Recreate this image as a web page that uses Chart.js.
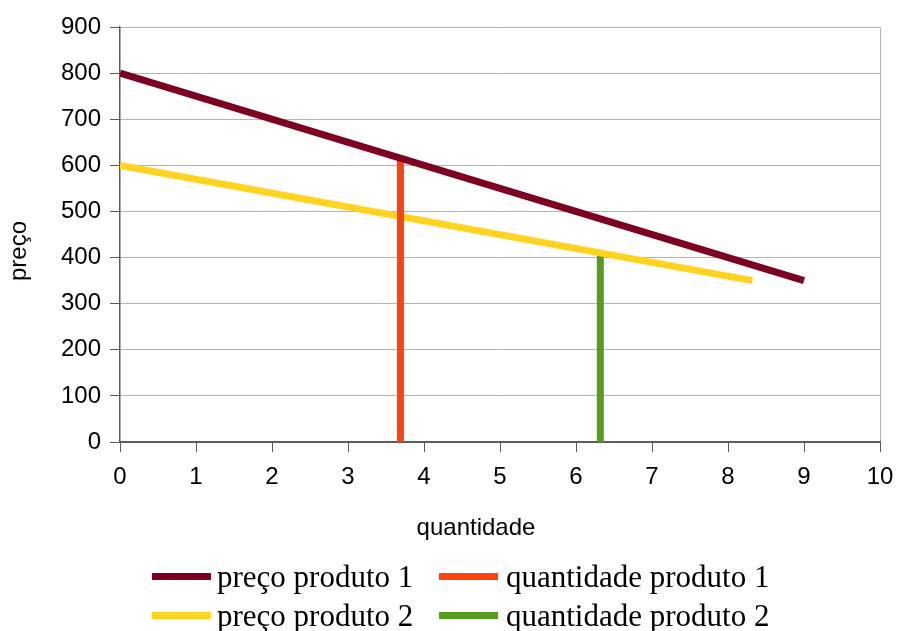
<!DOCTYPE html>
<html>
<head>
<meta charset="utf-8">
<script src="https://cdn.jsdelivr.net/npm/chart.js@4.4.1/dist/chart.umd.min.js"></script>
<style>
  html,body{margin:0;padding:0;background:#fff;}
  #wrap{position:relative;width:897px;height:631px;overflow:hidden;}
  #chart{position:absolute;left:0;top:0;}
  .ttl{position:absolute;font-family:"Liberation Sans",Arial,sans-serif;font-size:24px;line-height:24px;color:#000;white-space:nowrap;}
  #ytitle{left:18px;top:251px;transform:translate(-50%,-50%) rotate(-90deg);}
  #xtitle{left:476px;top:527px;transform:translate(-50%,-50%);}
  .leg{position:absolute;font-family:"Liberation Serif","Times New Roman",serif;font-size:31px;line-height:31px;color:#000;white-space:nowrap;}
  .sw{position:absolute;width:59px;height:7px;}
</style>
</head>
<body>
<div id="wrap">
  <canvas id="chart" width="897" height="631"></canvas>
  <div class="ttl" id="ytitle">preço</div>
  <div class="ttl" id="xtitle">quantidade</div>
  <div id="legend"></div>
</div>
<script>
// dados
const xTicks = [0,1,2,3,4,5,6,7,8,9,10];
const yTicks = [0,100,200,300,400,500,600,700,800,900];

const preco1X = [0, 9];
const preco1Y = [800, 350];
const quant1X = [3.69, 3.69];
const quant1Y = [0, 615];
const preco2X = [0, 8.32];
const preco2Y = [600, 350];
const quant2X = [6.32, 6.32];
const quant2Y = [0, 410];

const pts = (xs, ys) => xs.map((x,i)=>({x, y: ys[i]}));

const tickFont = {family:'"Liberation Sans", Arial, sans-serif', size:24};
const axisGrey = '#5b5b5b';
const gridGrey = '#b3b3b3';

// a ordem dos datasets define a sobreposição (o primeiro fica por cima)
const datasets = [
  {label:'preço produto 1', data:pts(preco1X,preco1Y), borderColor:'#7e0021', backgroundColor:'#7e0021'},
  {label:'quantidade produto 1', data:pts(quant1X,quant1Y), borderColor:'#ff420e', backgroundColor:'#ff420e'},
  {label:'preço produto 2', data:pts(preco2X,preco2Y), borderColor:'#ffd320', backgroundColor:'#ffd320'},
  {label:'quantidade produto 2', data:pts(quant2X,quant2Y), borderColor:'#579d1c', backgroundColor:'#579d1c'}
].map(d=>Object.assign(d,{showLine:true, borderWidth:7, pointRadius:0, tension:0, fill:false}));

new Chart(document.getElementById('chart'), {
  type:'scatter',
  data:{datasets},
  options:{
    responsive:false,
    animation:false,
    layout:{padding:{left:0,right:17,top:27,bottom:86}},
    plugins:{legend:{display:false}, tooltip:{enabled:false}},
    scales:{
      x:{
        type:'linear', min:0, max:10,
        afterBuildTicks:a=>{ a.ticks = xTicks.map(v=>({value:v})); },
        afterFit:a=>{ a.height = 103; a.paddingLeft = 0; a.paddingRight = 0; },
        border:{color:axisGrey, width:2},
        grid:{
          color:c=> (c.tick && c.tick.value===10) ? gridGrey : 'rgba(0,0,0,0)',
          tickColor:axisGrey, tickLength:10, lineWidth:1
        },
        ticks:{color:'#000', font:tickFont, padding:11, maxRotation:0, autoSkip:false}
      },
      y:{
        type:'linear', min:0, max:900,
        afterBuildTicks:a=>{ a.ticks = yTicks.map(v=>({value:v})); },
        afterFit:a=>{ a.width = 120; a.paddingTop = 0; a.paddingBottom = 0; },
        border:{color:axisGrey, width:1.5},
        grid:{color:gridGrey, tickColor:axisGrey, tickLength:10, lineWidth:1},
        ticks:{color:'#000', font:tickFont, padding:9, autoSkip:false}
      }
    }
  }
});

// legenda em duas linhas, como no original
const legendPos = [
  {sx:152, tx:217, row:0}, {sx:439, tx:506, row:0},
  {sx:152, tx:217, row:1}, {sx:439, tx:506, row:1}
];
const rowSwatchTop = [572.5, 611.5];
const rowTextTop = [561, 600];
const leg = document.getElementById('legend');
datasets.forEach((d,i)=>{
  const p = legendPos[i];
  const sw = document.createElement('div');
  sw.className='sw'; sw.style.left=p.sx+'px'; sw.style.top=rowSwatchTop[p.row]+'px'; sw.style.background=d.borderColor;
  const t = document.createElement('div');
  t.className='leg'; t.style.left=p.tx+'px'; t.style.top=rowTextTop[p.row]+'px'; t.textContent=d.label;
  leg.appendChild(sw); leg.appendChild(t);
});
</script>
</body>
</html>
